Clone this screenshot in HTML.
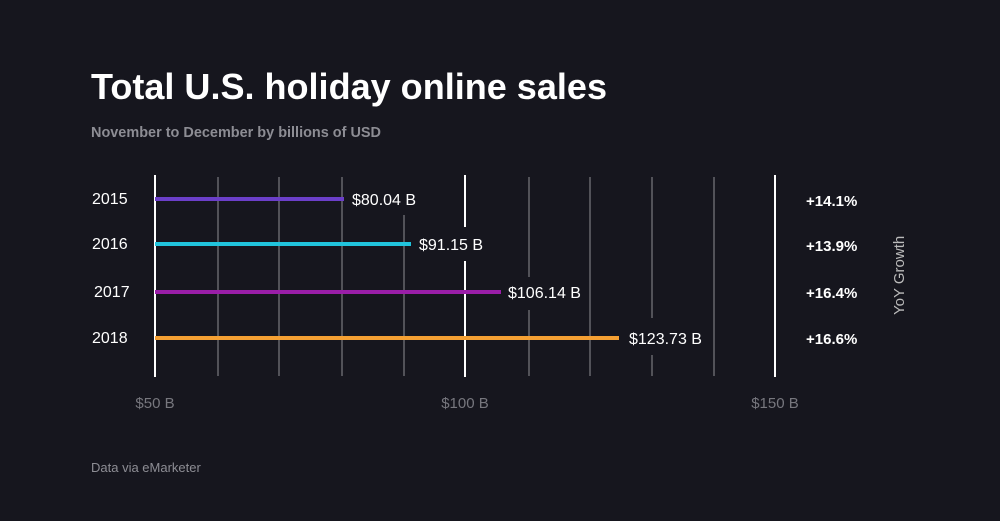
<!DOCTYPE html>
<html><head><style>
body{margin:0;background:#16161e;}
svg{display:block}
</style></head><body>
<svg width="1000" height="521" xmlns="http://www.w3.org/2000/svg" font-family="Liberation Sans, sans-serif">
<rect width="1000" height="521" fill="#16161e"/>
<text x="91" y="99" fill="#fff" font-size="36" font-weight="bold" textLength="516" lengthAdjust="spacingAndGlyphs">Total U.S. holiday online sales</text>
<text x="91" y="137" fill="#8d8d94" font-size="15" font-weight="bold" textLength="290" lengthAdjust="spacingAndGlyphs">November to December by billions of USD</text>
<g stroke="#7a7a80" stroke-width="1.2">
<line x1="218" y1="177" x2="218" y2="376"/>
<line x1="279" y1="177" x2="279" y2="376"/>
<line x1="342" y1="177" x2="342" y2="376"/>
<line x1="404" y1="215" x2="404" y2="376"/>
<line x1="529" y1="177" x2="529" y2="277"/>
<line x1="529" y1="310" x2="529" y2="376"/>
<line x1="590" y1="177" x2="590" y2="376"/>
<line x1="652" y1="177" x2="652" y2="318"/>
<line x1="652" y1="355" x2="652" y2="376"/>
<line x1="714" y1="177" x2="714" y2="376"/>
</g>
<g stroke="#fff" stroke-width="2">
<line x1="155" y1="175" x2="155" y2="377"/>
<line x1="465" y1="175" x2="465" y2="227"/>
<line x1="465" y1="261" x2="465" y2="377"/>
<line x1="775" y1="175" x2="775" y2="377"/>
</g>
<g stroke-width="4">
<line x1="155" y1="199" x2="344" y2="199" stroke="#6b3fc9"/>
<line x1="155" y1="244" x2="411" y2="244" stroke="#21c4dd"/>
<line x1="155" y1="292" x2="501" y2="292" stroke="#9a1ea8"/>
<line x1="155" y1="338" x2="619" y2="338" stroke="#f5a033"/>
</g>
<g fill="#fff" font-size="16">
<text x="92" y="204">2015</text>
<text x="92" y="249">2016</text>
<text x="94" y="297">2017</text>
<text x="92" y="343">2018</text>
<text x="352" y="205">$80.04 B</text>
<text x="419" y="250">$91.15 B</text>
<text x="508" y="298">$106.14 B</text>
<text x="629" y="344">$123.73 B</text>
</g>
<g fill="#fff" font-size="15" font-weight="bold">
<text x="806" y="206">+14.1%</text>
<text x="806" y="251">+13.9%</text>
<text x="806" y="298">+16.4%</text>
<text x="806" y="344">+16.6%</text>
</g>
<text transform="translate(904,315) rotate(-90)" fill="#bbb" font-size="15">YoY Growth</text>
<g fill="#77777e" font-size="15" text-anchor="middle">
<text x="155" y="408">$50 B</text>
<text x="465" y="408">$100 B</text>
<text x="775" y="408">$150 B</text>
</g>
<text x="91" y="472" fill="#8d8d94" font-size="13">Data via eMarketer</text>
</svg>
</body></html>
